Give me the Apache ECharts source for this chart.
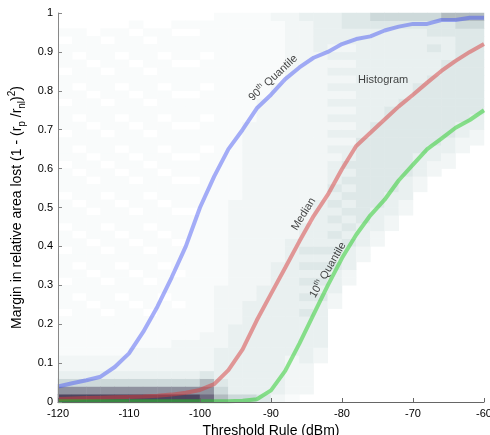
<!DOCTYPE html>
<html><head><meta charset="utf-8">
<script src="https://cdn.jsdelivr.net/npm/echarts@6/dist/echarts.min.js"></script>
<style>html,body{margin:0;padding:0;background:#fff}#c{width:490px;height:435px}</style>
</head><body><div id="c"></div>
<script>
// Threshold values (dBm) at which quantile curves are sampled
const thresholds = [-120,-118,-116,-114,-112,-110,-108,-106,-104,-102,-100,-98,-96,-94,-92,-90,-88,-86,-84,-82,-80,-78,-76,-74,-72,-70,-68,-66,-64,-62,-60];
const q90 = [0.040,0.048,0.056,0.065,0.090,0.125,0.180,0.245,0.320,0.400,0.500,0.580,0.650,0.700,0.755,0.790,0.830,0.860,0.885,0.900,0.920,0.933,0.940,0.955,0.965,0.972,0.972,0.982,0.982,0.988,0.988];
const median = [0.008,0.009,0.010,0.011,0.012,0.013,0.014,0.016,0.019,0.024,0.031,0.046,0.082,0.135,0.210,0.278,0.345,0.413,0.478,0.533,0.599,0.658,0.692,0.726,0.760,0.790,0.821,0.851,0.877,0.900,0.920];
const q10 = [0.002,0.002,0.002,0.002,0.002,0.002,0.002,0.002,0.002,0.002,0.002,0.002,0.002,0.003,0.007,0.030,0.080,0.150,0.225,0.300,0.370,0.430,0.480,0.520,0.570,0.610,0.650,0.677,0.705,0.725,0.750];

// Histogram: one string per 2 dBm column (-120..-60), one digit per 0.02 row from 0 upward (density level 0-9)
const histColumns = [
  "9753221111 1011101110 1101110111 0111011101 1101110100",
  "9753221111 1110111011 1011101110 1101110111 0111011100",
  "9753221111 1101110111 0111011101 1011101110 1110111000",
  "9753221111 1011101110 1101110111 0111011101 1101110100",
  "9753221111 1110111011 1011101110 1101110111 0111011100",
  "9753222111 1101110111 0111011101 1011101110 1110111010",
  "9753222111 1011101110 1101110111 0111011101 1101110100",
  "9753222111 1110111011 1011101110 1101110111 0111011100",
  "9753222211 1101110111 0111011101 1011101110 1110111010",
  "9753222211 1111111111 1111011101 1011101110 1110111010",
  "8764222221 1111111111 1111111111 1101110111 0111011110",
  "6543333222 2222211111 1111111111 1111111111 1111111111",
  "5333333333 2222222222 2222221111 1111111111 1111111111",
  "5333333333 3332222222 2222222222 2222221111 1111111111",
  "4333333333 3333322222 2222222222 2222222221 1111111111",
  "2333333333 3333333322 2222222222 2222222222 2111111112",
  "1222223333 3333333333 3222222222 2222222222 2222222222",
  "0222233333 3434343434 3332222222 2222222222 2222222223",
  "0000022333 3334343434 3333332222 2222222222 2222233333",
  "0000000000 0022333434 3434343433 3232323232 3232323333",
  "0000000000 0000022333 4343434343 4332323232 3232323344",
  "0000000000 0000000022 3334444444 4444333333 3333333344",
  "0000000000 0000000000 2233344444 4444443333 3333333345",
  "0000000000 0000000000 0022333444 4444444433 3333333345",
  "0000000000 0000000000 0000223334 4444444443 3333333345",
  "0000000000 0000000000 0000000223 3344444444 4333333345",
  "0000000000 0000000000 0000000002 2334444444 4433343445",
  "0000000000 0000000000 0000000000 2233444444 4444333446",
  "0000000000 0000000000 0000000000 0022334444 4444444456",
  "0000000000 0000000000 0000000000 0002233444 4444444456"
];
const levelColors = ['#ffffff','#f9fbfb','#f2f6f6','#e9f0f0','#dee8e8','#cdd9da','#b2bcc0','#8f929f','#6e6a80','#4d4660'];

const histX = histColumns.map((_, i) => String(-119 + 2 * i));
const rowCount = 50;
const histY = Array.from({length: rowCount}, (_, r) => (0.01 + 0.02 * r).toFixed(2));
const histData = [];
histColumns.forEach((s, i) => {
  const digits = s.replace(/ /g, '');
  for (let r = 0; r < digits.length; r++) {
    const v = +digits[r];
    if (v > 0) histData.push([i, r, v]);
  }
});

const pair = arr => thresholds.map((t, i) => [t, arr[i]]);
const font = 'Liberation Sans, Arial, Helvetica, sans-serif';

const chart = echarts.init(document.getElementById('c'), null, {renderer: 'canvas'});
chart.setOption({
  animation: false,
  backgroundColor: '#ffffff',
  textStyle: {fontFamily: font},
  grid: {left: 58, right: 6, top: 13, bottom: 33, containLabel: false, outerBoundsMode: 'none'},
  visualMap: {
    show: false, seriesIndex: 0, dimension: 2, min: 0, max: 9,
    inRange: {color: levelColors}
  },
  xAxis: [{
    type: 'value', min: -120, max: -60, interval: 10,
    axisLine: {show: true, lineStyle: {color: '#666', width: 1}},
    axisTick: {show: true, inside: true, length: 4, lineStyle: {color: '#666'}},
    axisLabel: {color: '#000', fontSize: 11, margin: 6, fontFamily: font},
    splitLine: {show: false},
    name: 'Threshold Rule (dBm)', nameLocation: 'middle', nameGap: 16,
    nameTextStyle: {color: '#000', fontSize: 14, fontFamily: font},
    z: 5
  }, {
    type: 'category', data: histX, show: false, gridIndex: 0, position: 'top'
  }],
  yAxis: [{
    type: 'value', min: 0, max: 1, interval: 0.1,
    axisLine: {show: true, lineStyle: {color: '#888', width: 1}},
    axisTick: {show: true, inside: true, length: 4, lineStyle: {color: '#888'}},
    axisLabel: {color: '#000', fontSize: 11, margin: 5, fontFamily: font},
    splitLine: {show: false},
    name: 'Margin in relative area lost (1 - (r{sub|p} /r{sub|nl}){sup|2})',
    nameLocation: 'middle', nameGap: 24, nameRotate: 90,
    nameTextStyle: {
      color: '#000', fontSize: 14, lineHeight: 20, fontFamily: font,
      rich: {
        sub: {fontSize: 10, lineHeight: 10, verticalAlign: 'bottom', color: '#000', fontFamily: font},
        sup: {fontSize: 10, lineHeight: 10, verticalAlign: 'top', color: '#000', fontFamily: font}
      }
    },
    z: 5
  }, {
    type: 'category', data: histY, show: false, gridIndex: 0, position: 'right'
  }],
  series: [{
    type: 'heatmap', xAxisIndex: 1, yAxisIndex: 1, data: histData,
    itemStyle: {borderWidth: 0}, emphasis: {disabled: true}, silent: true, z: 1
  }, {
    type: 'line', name: '90th Quantile', data: pair(q90), symbol: 'none', smooth: false,
    lineStyle: {color: '#4455f2', width: 4, opacity: 0.48}, silent: true, z: 3
  }, {
    type: 'line', name: 'Median', data: pair(median), symbol: 'none', smooth: false,
    lineStyle: {color: '#d83c3c', width: 4, opacity: 0.5}, silent: true, z: 3
  }, {
    type: 'line', name: '10th Quantile', data: pair(q10), symbol: 'none', smooth: false,
    lineStyle: {color: '#22cc22', width: 4, opacity: 0.5}, silent: true, z: 3
  }, {
    type: 'scatter', symbolSize: 0, silent: true, z: 6,
    label: {
      show: true, position: 'inside', color: '#111', fontSize: 11, lineHeight: 14, fontFamily: font,
      rich: {sup: {fontSize: 7, lineHeight: 7, verticalAlign: 'top', color: '#111', fontFamily: font}}
    },
    data: [
      {value: [-89.7, 0.833], label: {formatter: '90{sup|th} Quantile', rotate: 43}},
      {value: [-74.2, 0.828], label: {formatter: 'Histogram', rotate: 0}},
      {value: [-85.4, 0.483], label: {formatter: 'Median', rotate: 58}},
      {value: [-82.0, 0.339], label: {formatter: '10{sup|th} Quantile', rotate: 60}}
    ]
  }]
});
</script></body></html>
